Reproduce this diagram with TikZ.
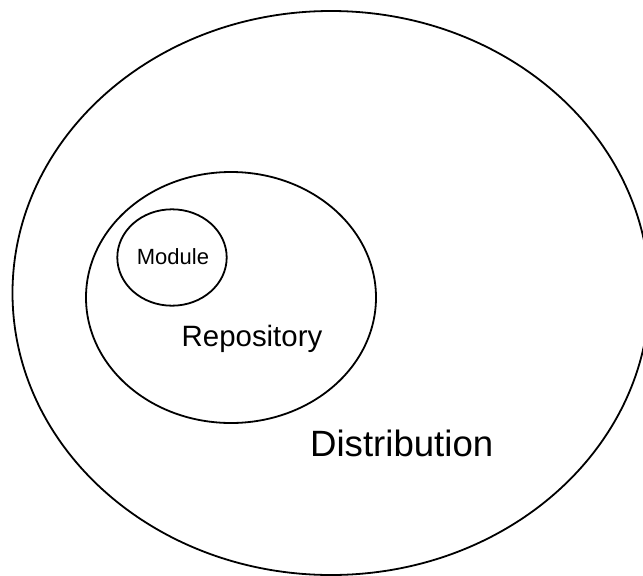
\documentclass[tikz,border=0pt]{standalone}
\usepackage{fontspec}
\setmainfont{Liberation Sans}
\begin{document}
\begin{tikzpicture}[x=1pt,y=-1pt,
  ring/.style={draw=black,line width=1.8pt},
  lbl/.style={anchor=base,inner sep=0pt}]
\useasboundingbox (0,0) rectangle (643,576);
\begin{scope}
\clip (0,0) rectangle (643,576);
\draw[ring] (331,293) ellipse [x radius=318.5, y radius=282];
\end{scope}
\draw[ring] (231,297.5) ellipse [x radius=145, y radius=125.5];
\draw[ring] (172,257.5) ellipse [x radius=54.7, y radius=48.2];
\node[lbl,font=\fontsize{22}{26}\selectfont] (mod) at (173,264) {Module};
\node[lbl,font=\fontsize{29.4}{34}\selectfont] (rep) at (252,346.7) {Repository};
\node[lbl,font=\fontsize{36.6}{42}\selectfont] (dist) at (401.7,456.7) {Distribution};
\end{tikzpicture}
\end{document}
